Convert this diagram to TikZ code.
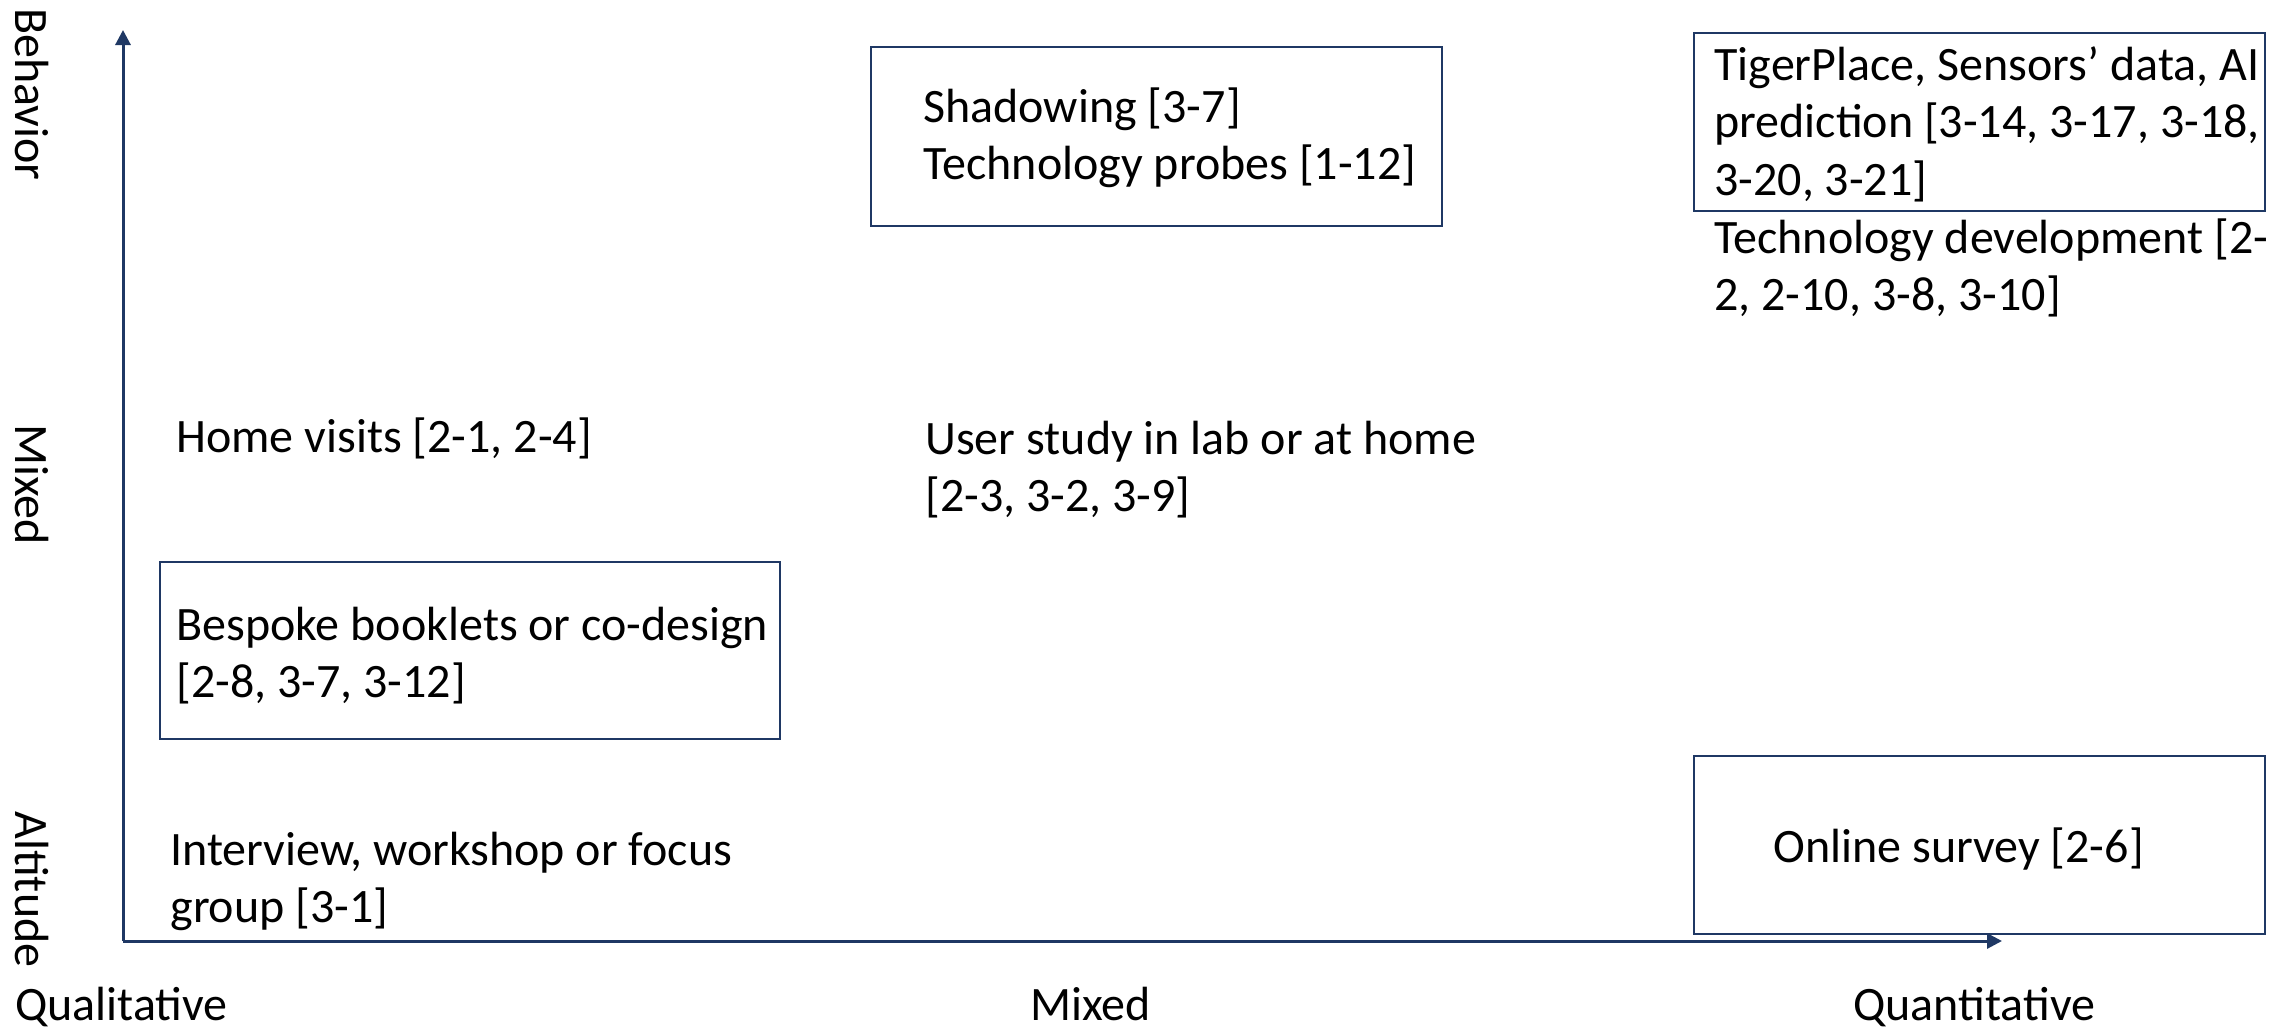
\documentclass[tikz,border=0pt]{standalone}
\usepackage{fontspec}
\setmainfont{Carlito}
\usetikzlibrary{arrows.meta}
\definecolor{navy}{HTML}{1F3864}

% multi-line label whose baseline is that of its first line
\newcommand{\multiline}[1]{\begin{tabular}[t]{@{}l@{}}#1\end{tabular}}

\begin{document}
\begin{tikzpicture}[x=0.5pt, y=-0.5pt,
  every node/.style={inner sep=0pt, font=\fontsize{24}{28.8}\selectfont},
  txt/.style={anchor=base west, align=left},
  vlabel/.style={anchor=base west, rotate=-90},
  frame/.style={draw=navy, line width=1pt, anchor=north west},
  axis/.style={draw=navy, line width=1.5pt, -{Triangle[length=7.5pt, width=7.5pt]}}]

  \useasboundingbox (0,0) rectangle (2292,1028);

  % axes
  \coordinate (origin) at (123,941);
  \coordinate (ytip) at (123,30);
  \coordinate (xtip) at (2002,941);
  \draw[axis] (origin) -- (ytip);
  \draw[axis] (origin) -- (xtip);

  % axis labels
  \node[vlabel] (ybeh) at (15,8) {Behavior};
  \node[vlabel] (ymix) at (15,424) {Mixed};
  \node[vlabel] (yalt) at (15,811) {Altitude};
  \node[txt] (xqual) at (15,1020) {Qualitative};
  \node[txt] (xmix) at (1030,1020) {Mixed};
  \node[txt] (xquant) at (1853,1020) {Quantitative};

  % framed groups
  \node[frame, minimum width=285.5pt, minimum height=89.5pt] (shadowbox) at (870,46) {};
  \node[frame, minimum width=285.5pt, minimum height=89pt] (tigerbox) at (1693,32) {};
  \node[frame, minimum width=310pt, minimum height=88.5pt] (bespokebox) at (159,561) {};
  \node[frame, minimum width=285.5pt, minimum height=89pt] (surveybox) at (1693,755) {};

  % methods
  \node[txt] (shadow) at (923,122)
    {\multiline{Shadowing [3-7]\\Technology probes [1-12]}};
  \node[txt] (tiger) at (1714,80)
    {\multiline{TigerPlace, Sensors’ data, AI\\prediction [3-14, 3-17, 3-18,\\3-20, 3-21]}};
  \node[txt] (techdev) at (1714,253)
    {\multiline{Technology development [2-\\2, 2-10, 3-8, 3-10]}};
  \node[txt] (home) at (176,452) {Home visits [2-1, 2-4]};
  \node[txt] (user) at (925,454)
    {\multiline{User study in lab or at home\\[0pt][2-3, 3-2, 3-9]}};
  \node[txt] (bespoke) at (176,640)
    {\multiline{Bespoke booklets or co-design\\[0pt][2-8, 3-7, 3-12]}};
  \node[txt] (interview) at (170,865)
    {\multiline{Interview, workshop or focus\\group [3-1]}};
  \node[txt] (survey) at (1773,862) {Online survey [2-6]};
\end{tikzpicture}
\end{document}
